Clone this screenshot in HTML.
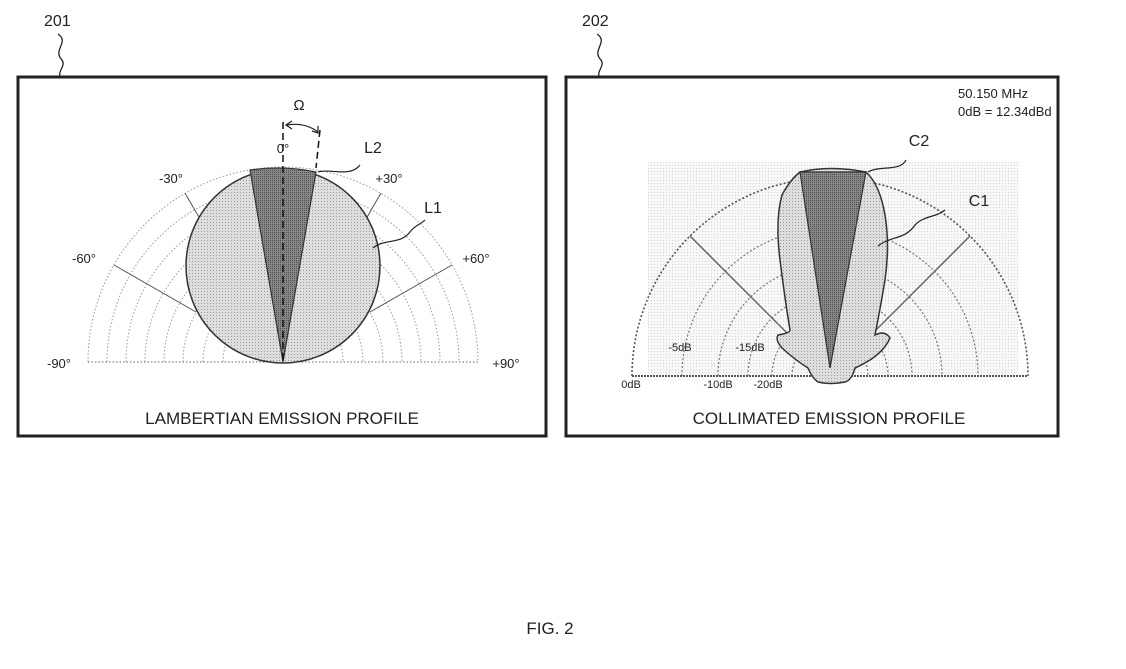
<!DOCTYPE html>
<html><head><meta charset="utf-8"><style>
html,body{margin:0;padding:0;background:#fff;}
svg{display:block;font-family:"Liberation Sans",sans-serif;}
</style></head><body>
<svg width="1126" height="669" viewBox="0 0 1126 669" xmlns="http://www.w3.org/2000/svg">
<defs>
<pattern id="lt" width="3" height="3" patternUnits="userSpaceOnUse"><rect width="3" height="3" fill="#dedede"/><rect width="1" height="1" fill="#999"/></pattern>
<pattern id="dk" width="2" height="2" patternUnits="userSpaceOnUse"><rect width="2" height="2" fill="#888"/><rect width="1" height="1" fill="#505050"/></pattern>
<pattern id="bg" width="3" height="3" patternUnits="userSpaceOnUse"><rect width="3" height="3" fill="#f8f8f8"/><rect width="1" height="1" fill="#d4d4d4"/></pattern>
</defs>
<g fill="none" stroke="#222" stroke-width="1.3">
<path d="M58 34 C70 42,52 50,62 60 C66 66,58 70,60 77"/>
<path d="M597 34 C609 42,591 50,601 60 C605 66,597 70,599 77"/>
</g>
<text x="44" y="26" font-size="16" fill="#222">201</text>
<text x="582" y="26" font-size="16" fill="#222">202</text>
<rect x="18" y="77" width="528" height="359" fill="#fff" stroke="#222" stroke-width="3"/>
<rect x="566" y="77" width="492" height="359" fill="#fff" stroke="#222" stroke-width="3"/>

<!-- left polar -->
<g fill="none" stroke="#999" stroke-width="1" stroke-dasharray="1.5 2">
<path d="M88 362 A195 195 0 0 1 478 362"/>
<path d="M107 362 A176 176 0 0 1 459 362"/>
<path d="M126 362 A157 157 0 0 1 440 362"/>
<path d="M145 362 A138 138 0 0 1 421 362"/>
<path d="M164 362 A119 119 0 0 1 402 362"/>
<path d="M183 362 A100 100 0 0 1 383 362"/>
<path d="M203 362 A80 80 0 0 1 363 362"/>
<path d="M223 362 A60 60 0 0 1 343 362"/>
<line x1="88" y1="362" x2="478" y2="362" stroke="#666"/>
</g>
<g stroke="#555" stroke-width="1">
<line x1="114" y1="265" x2="196" y2="312"/>
<line x1="452" y1="265" x2="370" y2="312"/>
<line x1="185" y1="193" x2="200" y2="219"/>
<line x1="381" y1="193" x2="366" y2="219"/>
</g>
<circle cx="283" cy="266" r="97" fill="url(#lt)" stroke="#333" stroke-width="1.5"/>
<path d="M283 362 L250 170 Q283 165 316 172 Z" fill="url(#dk)" stroke="#333" stroke-width="1.2"/>
<line x1="283" y1="122" x2="283" y2="362" stroke="#111" stroke-width="1.5" stroke-dasharray="7 4"/>
<line x1="320" y1="130" x2="316" y2="168" stroke="#111" stroke-width="1.5" stroke-dasharray="7 4"/>
<path d="M287 125 Q305 122 318 132" fill="none" stroke="#222" stroke-width="1.2"/>
<path d="M292 121 L286 125 L292 129" fill="none" stroke="#222" stroke-width="1.2"/>
<path d="M312 131 L318 133 L318 126" fill="none" stroke="#222" stroke-width="1.2"/>
<text x="299" y="110" font-size="15" text-anchor="middle" fill="#222">Ω</text>
<text x="283" y="153" font-size="13" text-anchor="middle" fill="#222">0°</text>
<text x="171" y="183" font-size="13" text-anchor="middle" fill="#222">-30°</text>
<text x="389" y="183" font-size="13" text-anchor="middle" fill="#222">+30°</text>
<text x="84" y="263" font-size="13" text-anchor="middle" fill="#222">-60°</text>
<text x="476" y="263" font-size="13" text-anchor="middle" fill="#222">+60°</text>
<text x="59" y="368" font-size="13" text-anchor="middle" fill="#222">-90°</text>
<text x="506" y="368" font-size="13" text-anchor="middle" fill="#222">+90°</text>
<text x="373" y="153" font-size="16" text-anchor="middle" fill="#222">L2</text>
<text x="433" y="213" font-size="16" text-anchor="middle" fill="#222">L1</text>
<path d="M318 172 C330 168,350 178,360 165" fill="none" stroke="#222" stroke-width="1.2"/>
<path d="M373 248 C385 238,400 245,410 232 C415 225,420 225,425 220" fill="none" stroke="#222" stroke-width="1.2"/>
<text x="282" y="424" font-size="17" text-anchor="middle" fill="#222">LAMBERTIAN EMISSION PROFILE</text>

<!-- right polar -->
<rect x="648" y="162" width="370" height="215" fill="url(#bg)"/>
<g fill="none" stroke="#777" stroke-width="1.2" stroke-dasharray="2 2">
<path d="M632 376 A198 198 0 0 1 1028 376" stroke="#555" stroke-width="1.6"/>
<path d="M682 376 A148 148 0 0 1 978 376"/>
<path d="M718 376 A112 112 0 0 1 942 376"/>
<path d="M748 376 A82 82 0 0 1 912 376"/>
<path d="M772 376 A58 58 0 0 1 888 376"/>
<path d="M792 376 A38 38 0 0 1 868 376"/>
</g>
<line x1="632" y1="376" x2="1028" y2="376" stroke="#555" stroke-width="2" stroke-dasharray="2 1"/>
<g stroke="#666" stroke-width="1.5">
<line x1="690" y1="236" x2="830" y2="376"/>
<line x1="970" y1="236" x2="830" y2="376"/>
</g>
<path d="M800 172 Q830 165 866 172 Q880 185 885 215 Q890 245 885 280 Q880 310 875 335 Q885 330 890 338 Q885 350 870 360 Q860 366 855 368 Q852 380 845 382 Q830 385 818 382 Q812 378 808 368 Q795 360 782 348 Q775 340 778 335 Q790 333 790 330 Q785 300 780 260 Q775 220 782 195 Q790 180 800 172 Z" fill="url(#lt)" stroke="#333" stroke-width="1.5"/>
<path d="M830 368 L800 172 L866 172 Z" fill="url(#dk)" stroke="#333" stroke-width="1.2"/>
<text x="958" y="98" font-size="13" fill="#222">50.150 MHz</text>
<text x="958" y="116" font-size="13" fill="#222">0dB = 12.34dBd</text>
<text x="919" y="146" font-size="16" text-anchor="middle" fill="#222">C2</text>
<text x="979" y="206" font-size="16" text-anchor="middle" fill="#222">C1</text>
<path d="M868 172 C880 165,900 172,906 160" fill="none" stroke="#222" stroke-width="1.2"/>
<path d="M878 246 C890 236,905 240,915 225 C925 215,935 218,945 210" fill="none" stroke="#222" stroke-width="1.2"/>
<g font-size="11" fill="#222" text-anchor="middle">
<text x="680" y="351">-5dB</text>
<text x="750" y="351">-15dB</text>
<text x="631" y="388">0dB</text>
<text x="718" y="388">-10dB</text>
<text x="768" y="388">-20dB</text>
</g>
<text x="829" y="424" font-size="17" text-anchor="middle" fill="#222">COLLIMATED EMISSION PROFILE</text>

<text x="550" y="634" font-size="17" text-anchor="middle" fill="#222">FIG. 2</text>
</svg>
</body></html>
